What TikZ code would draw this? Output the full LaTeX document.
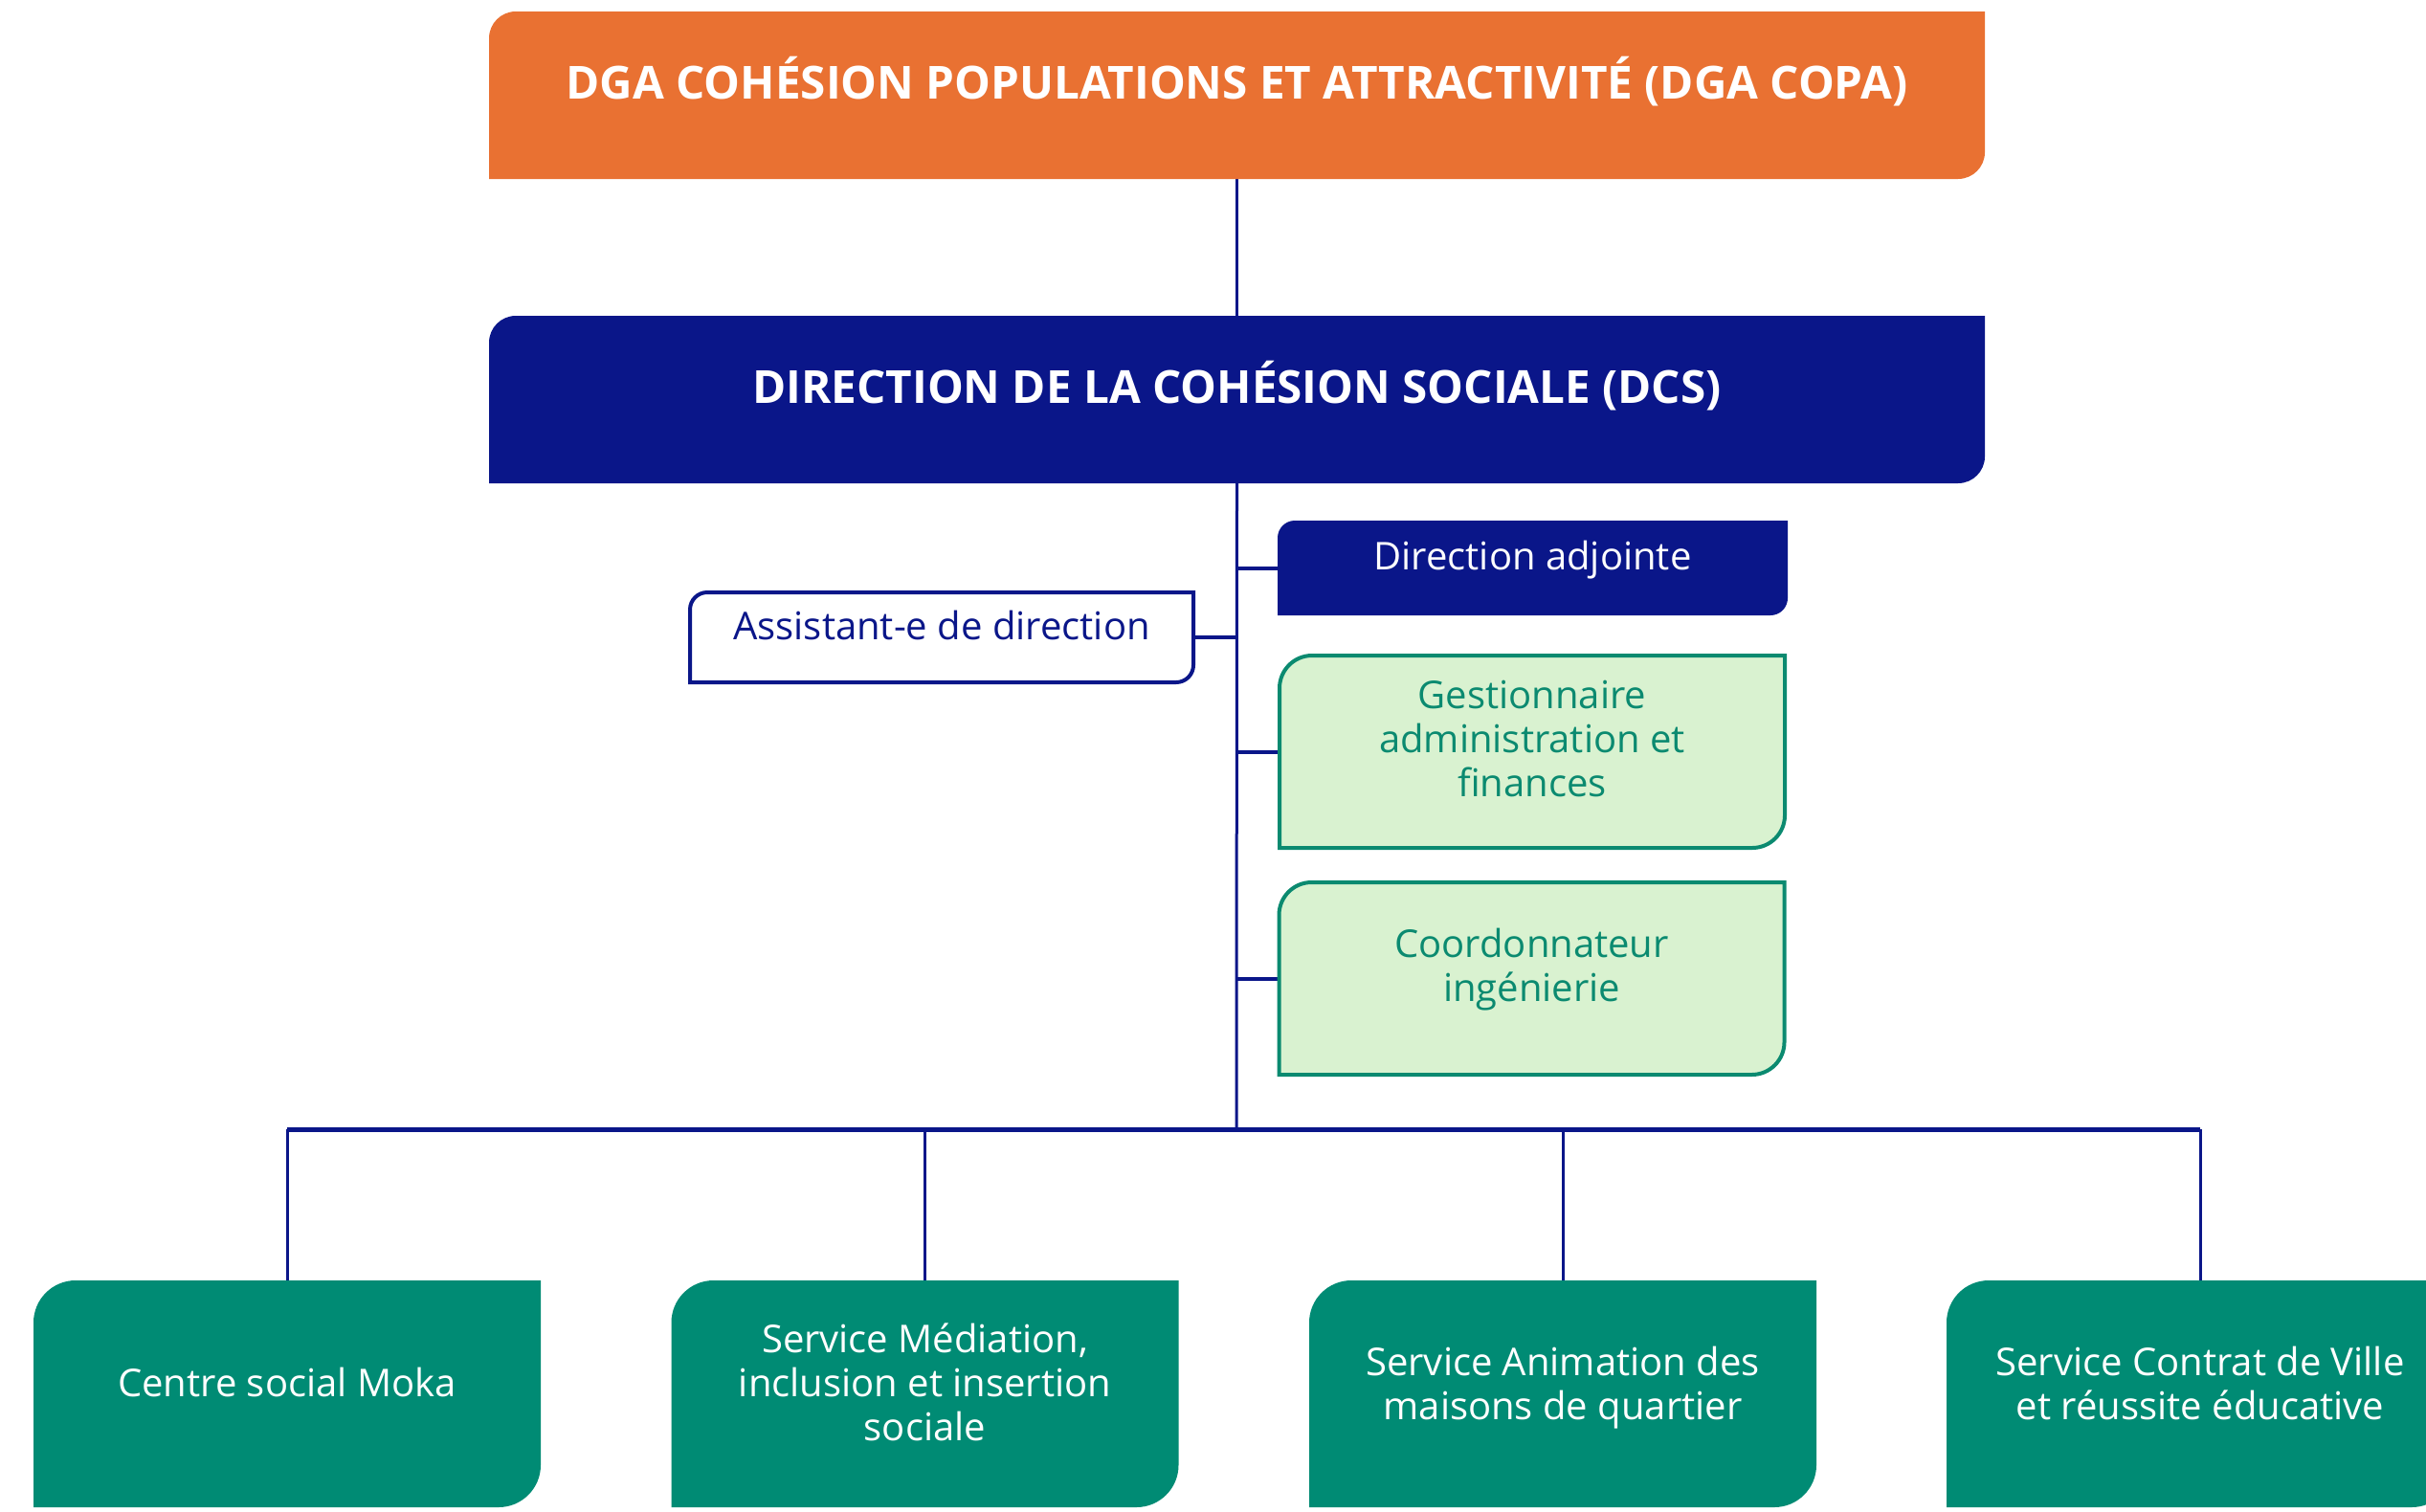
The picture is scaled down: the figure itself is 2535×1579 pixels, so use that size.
\documentclass[tikz,border=0pt]{standalone}
\usepackage{fontspec}
\setmainfont{Open Sans}
\definecolor{dgaorange}{HTML}{E97132}
\definecolor{navy}{HTML}{0A1689}
\definecolor{tealbox}{HTML}{008B74}
\definecolor{pale}{HTML}{D9F2D0}
\definecolor{greentxt}{HTML}{0B8A70}
% box with rounded top-left and bottom-right corners
\newcommand{\shapebox}[3]{\path[#3] (#1.south west) -- ([yshift=-#2]#1.north west) arc[start angle=180,end angle=90,radius=#2] -- (#1.north east) -- ([yshift=#2]#1.south east) arc[start angle=0,end angle=-90,radius=#2] -- cycle;}
\begin{document}
\begin{tikzpicture}[x=0.5pt,y=-0.5pt,
  frame/.style={inner sep=0pt, outer sep=0pt, minimum width=#1},
  titletxt/.style={font=\fontsize{23.8}{28}\selectfont\bfseries, text=white},
  bodytxt/.style={font=\fontsize{20}{23}\selectfont, align=center},
  trunk/.style={draw=navy, line width=1.5pt},
  stub/.style={draw=navy, line width=2pt},
  busline/.style={draw=navy, line width=2.5pt}]
\useasboundingbox (0,0) rectangle (2535,1579);
\fill[white] (0,0) rectangle (2535,1579);

% frames
\node[frame=781.5pt, minimum height=87.5pt] (dga) at (1292.5,99.5) {};
\node[frame=781.5pt, minimum height=87.5pt] (dcs) at (1292.5,417.5) {};
\node[frame=266.5pt, minimum height=49.5pt] (adj) at (1601.5,593.5) {};
\node[frame=263pt, minimum height=47pt] (asst) at (984,666) {};
\node[frame=264pt, minimum height=100.5pt] (gest) at (1601,785.5) {};
\node[frame=264pt, minimum height=100.5pt] (coord) at (1600.5,1022.5) {};
\node[frame=265pt, minimum height=118.5pt] (b1) at (300,1456.5) {};
\node[frame=265pt, minimum height=118.5pt] (b2) at (966.5,1456.5) {};
\node[frame=265pt, minimum height=118.5pt] (b3) at (1633,1456.5) {};
\node[frame=265pt, minimum height=118.5pt] (b4) at (2299,1456.5) {};
\coordinate (bus) at (1292,1180);

% connectors
\draw[trunk] (dga.south) -- (dcs.north);
\draw[trunk] (dcs.south) -- (bus);
\draw[stub] (adj.west) -- (adj.west -| dcs.south);
\draw[stub] (asst.east) -- (asst.east -| dcs.south);
\draw[stub] (gest.west) -- (gest.west -| dcs.south);
\draw[stub] (coord.west) -- (coord.west -| dcs.south);
\draw[busline] (b1.north |- bus) -- (b4.north |- bus);
\foreach \b in {b1,b2,b3,b4} \draw[trunk] (\b.north) -- (\b.north |- bus);

% shapes
\shapebox{dga}{14pt}{fill=dgaorange}
\shapebox{dcs}{14pt}{fill=navy}
\shapebox{adj}{9pt}{fill=navy}
\shapebox{asst}{9pt}{fill=white, draw=navy, line width=2pt}
\shapebox{gest}{17pt}{fill=pale, draw=greentxt, line width=2pt}
\shapebox{coord}{17pt}{fill=pale, draw=greentxt, line width=2pt}
\foreach \b in {b1,b2,b3,b4} {\shapebox{\b}{22pt}{fill=tealbox}}

% texts
\node[titletxt] at ([yshift=7pt]dga.center) {DGA COHÉSION POPULATIONS ET ATTRACTIVITÉ (DGA COPA)};
\node[titletxt] at ([yshift=7pt]dcs.center) {DIRECTION DE LA COHÉSION SOCIALE (DCS)};
\node[bodytxt, text=white] at ([yshift=4pt]adj.center) {Direction adjointe};
\node[bodytxt, text=navy] at ([yshift=6.5pt]asst.center) {Assistant-e de direction};
\node[bodytxt, text=greentxt] at ([yshift=6.5pt]gest.center) {Gestionnaire\\administration et\\finances};
\node[bodytxt, text=greentxt] at ([yshift=4.5pt]coord.center) {Coordonnateur\\ingénierie};
\node[bodytxt, text=white] at ([yshift=6pt]b1.center) {Centre social Moka};
\node[bodytxt, text=white] at ([yshift=6pt]b2.center) {Service Médiation,\\inclusion et insertion\\sociale};
\node[bodytxt, text=white] at ([yshift=3pt]b3.center) {Service Animation des\\maisons de quartier};
\node[bodytxt, text=white] at ([yshift=5.5pt]b4.center) {Service Contrat de Ville\\et réussite éducative};
\end{tikzpicture}
\end{document}
